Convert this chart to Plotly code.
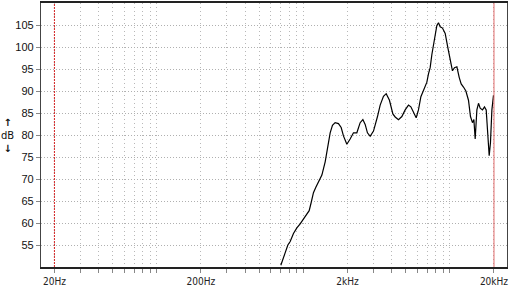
import plotly.graph_objects as go
import math

# Frequency response data
freq_hz = [702, 720, 751, 784, 813, 856, 903, 951, 1002, 1057, 1096, 1130, 1172, 1217,
           1268, 1338, 1409, 1470, 1524, 1580, 1648, 1736, 1812, 1878, 1981, 2086, 2198,
           2318, 2442, 2548, 2642, 2738, 2858, 3011, 3140, 3206, 3344, 3522, 3676, 3870,
           4083, 4234, 4459, 4702, 4953, 5218, 5418, 5643, 5888, 6104, 6340, 6604, 6966,
           7144, 7336, 7536, 7850, 8150, 8360, 8588, 8904, 9290, 9692, 10046, 10416,
           10750, 11164, 11576, 11944, 12384, 12860, 13396, 13824, 14264, 14582, 14884,
           15286, 15680, 16104, 16696, 17230, 17698, 18176, 18548, 18930, 19352, 19844]
level_db = [50.4, 51.3, 53.2, 55.0, 55.8, 57.6, 58.9, 59.8, 60.9, 61.9, 62.8, 64.6, 66.9, 68.1,
            69.3, 70.9, 73.9, 77.6, 80.5, 82.2, 82.8, 82.6, 81.7, 79.8, 77.9, 79.1, 80.5,
            80.5, 82.8, 83.5, 82.4, 80.5, 79.7, 80.9, 82.8, 84.2, 86.8, 88.8, 89.4, 87.9,
            84.8, 84.1, 83.5, 84.2, 85.7, 86.8, 86.4, 85.0, 83.9, 85.7, 88.7, 90.1, 92.0,
            93.9, 95.3, 98.3, 102.0, 104.9, 105.5, 104.6, 104.3, 103.1, 99.8, 96.8, 94.6,
            95.3, 95.5, 93.1, 91.6, 90.9, 90.0, 87.9, 84.2, 82.8, 83.5, 79.1,
            85.7, 87.2, 86.1, 85.7, 86.4, 85.7, 79.8, 75.3, 78.3, 85.7, 89.0]

# Axis ticks
x_tick_vals = [20, 30, 40, 50, 60, 70, 80, 90, 100,
               200, 300, 400, 500, 600, 700, 800, 900, 1000,
               2000, 3000, 4000, 5000, 6000, 7000, 8000, 9000, 10000, 20000]
x_labels = {20: "20Hz", 200: "200Hz", 2000: "2kHz", 20000: "20kHz"}
x_tick_text = [x_labels.get(v, "") for v in x_tick_vals]
y_tick_vals = [55, 60, 65, 70, 75, 80, 85, 90, 95, 100, 105]
x_range_hz = [16.2, 24540]
y_range_db = [50, 110]
marker_lines_hz = [20, 20000]

fig = go.Figure()
fig.add_trace(go.Scatter(x=freq_hz, y=level_db, mode="lines",
                         line=dict(color="black", width=1.2), hoverinfo="skip"))

# red reference lines at 20 Hz (dashed) and 20 kHz (solid)
fig.add_shape(type="line", xref="x", yref="paper", x0=marker_lines_hz[0], x1=marker_lines_hz[0],
              y0=0, y1=1, line=dict(color="#d42020", width=1, dash="2px,1px"))
fig.add_shape(type="line", xref="x", yref="paper", x0=marker_lines_hz[1], x1=marker_lines_hz[1],
              y0=0, y1=1, line=dict(color="#e06a6a", width=1))

fig.update_xaxes(type="log", range=[math.log10(x_range_hz[0]), math.log10(x_range_hz[1])],
                 tickvals=x_tick_vals, ticktext=x_tick_text,
                 showgrid=True, gridcolor="#b8b8b8", griddash="1px,3px", gridwidth=1,
                 ticks="outside", ticklen=4, tickcolor="#888", tickwidth=1,
                 showline=True, linecolor="#222", linewidth=1.5, mirror=True,
                 tickfont=dict(family="Liberation Sans Narrow, DejaVu Sans Condensed, Arial Narrow",
                               size=10, color="#222"),
                 zeroline=False)
fig.update_yaxes(range=y_range_db, tickvals=y_tick_vals,
                 showgrid=True, gridcolor="#b0b0b0", griddash="1px,2px", gridwidth=1,
                 ticks="outside", ticklen=4, tickcolor="#888", tickwidth=1,
                 showline=True, linecolor="#444", linewidth=1.2, mirror=True,
                 tickfont=dict(family="Liberation Sans, Arial", size=11, color="#111"),
                 zeroline=False)

fig.add_annotation(text="<b>↑</b><br>dB<br><b>↓</b>", xref="paper", yref="paper",
                   x=(7.5 - 41) / 466, y=(271 - 136) / 270.5,
                   xanchor="center", yanchor="middle", showarrow=False, align="center",
                   font=dict(family="DejaVu Sans, Liberation Sans", size=10, color="#111"))

fig.update_layout(width=512, height=288, margin=dict(l=41, r=5, t=1, b=17),
                  paper_bgcolor="white", plot_bgcolor="white", showlegend=False)

fig.write_html("out.html")
